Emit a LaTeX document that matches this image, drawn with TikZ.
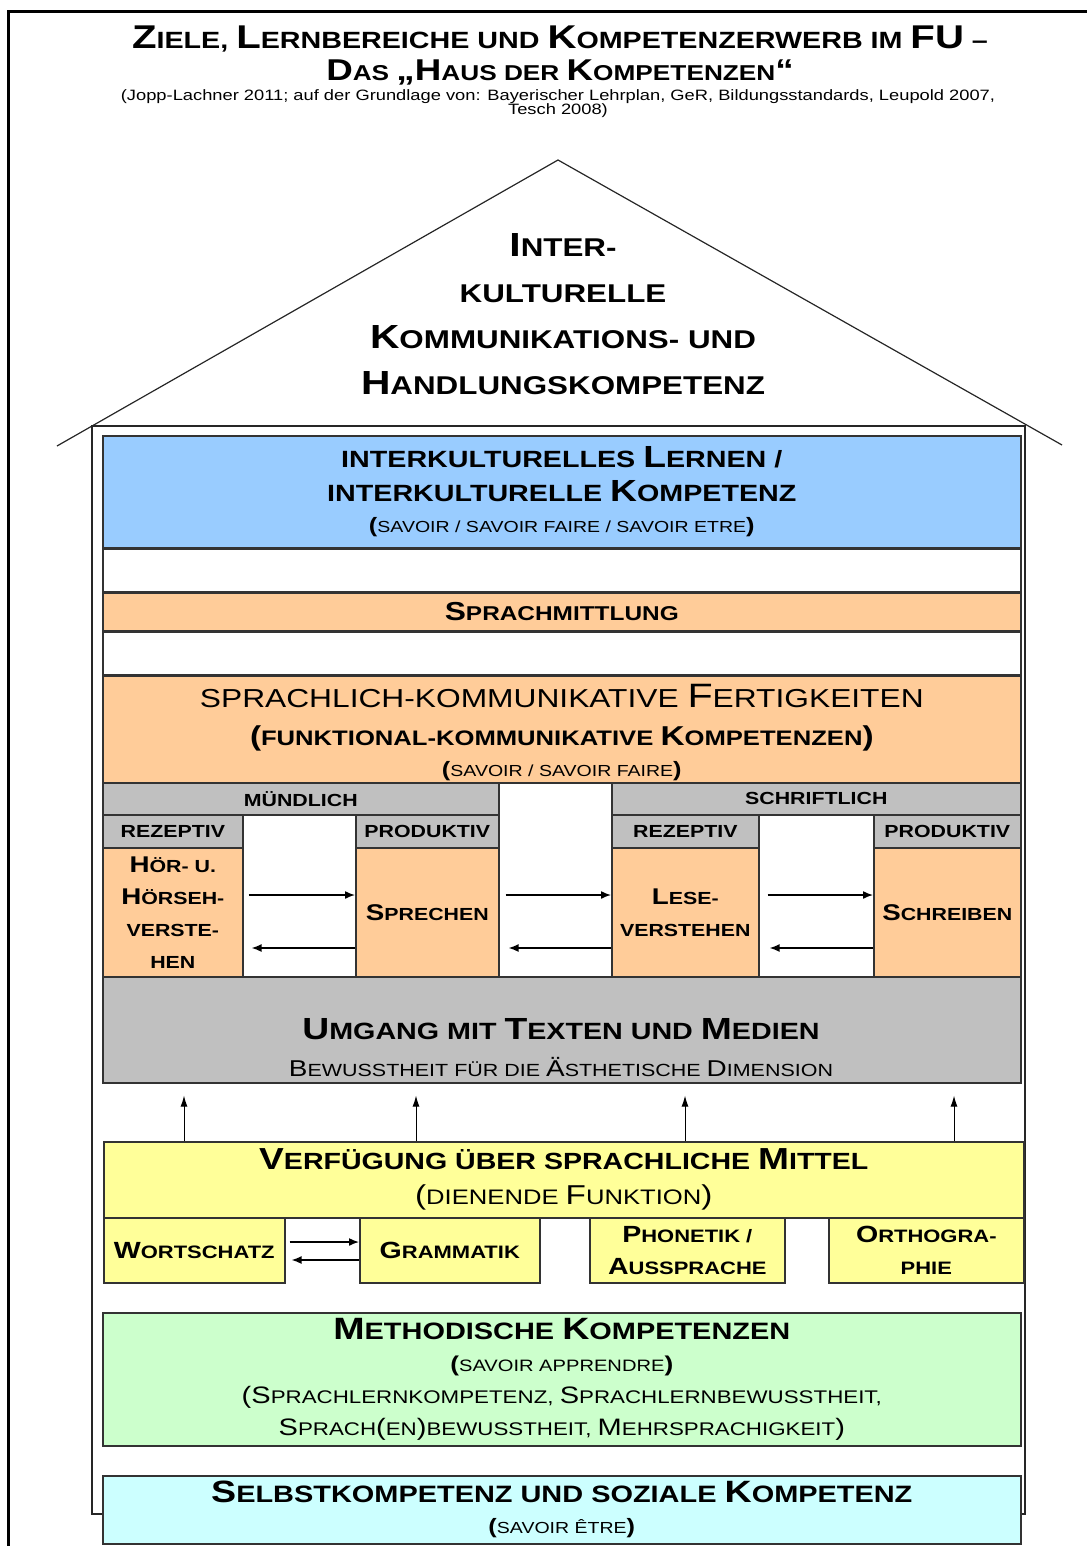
\documentclass[tikz,border=0pt]{standalone}
\usepackage{fontspec}
\setmainfont{Liberation Sans}[FakeStretch=1.22]
\usetikzlibrary{arrows.meta, positioning}

\definecolor{blau}{RGB}{153,204,255}
\definecolor{pfirsich}{RGB}{255,204,153}
\definecolor{grau}{RGB}{192,192,192}
\definecolor{gelb}{RGB}{255,255,153}
\definecolor{gruen}{RGB}{204,255,204}
\definecolor{tuerkis}{RGB}{204,255,255}

\newcommand{\Gr}[1]{\scalebox{1.3}{#1}}
\newcommand{\Gt}[1]{\scalebox{1.4}{#1}}

\begin{document}
\begin{tikzpicture}[
    x=1pt, y=-1pt,
    box/.style={draw=black!80, line width=1.6pt, inner sep=0pt, align=center, anchor=north west},
    leer/.style={box, fill=white},
    cell/.style={box, font=\bfseries\fontsize{17.5}{32}\selectfont},
    line/.style={draw, line width=1.5pt, -{Latex[length=10pt, width=8pt]}},
    hoch/.style={draw, line width=1pt, -{Latex[length=11pt, width=7pt]}, shorten >=12pt}
]
    \useasboundingbox (0,0) rectangle (1087,1546);

    % Rahmen, Dach und Waende
    \draw[line width=3pt] (8,1546) -- (8,12) -- (1087,12);
    \draw[line width=1.2pt, black!85] (57,446) -- (558,160) -- (1062,445);
    \draw[line width=1.6pt, black!85] (92,426) rectangle (1025,1514);

    % Titel
    \node[align=center, font=\bfseries\fontsize{23.5}{32}\selectfont] (titel) at (560,56)
        {\Gt{Z}IELE, \Gt{L}ERNBEREICHE UND \Gt{K}OMPETENZERWERB IM \Gt{FU} --\\
         {\fontsize{21.5}{32}\selectfont\Gt{D}AS \Gt{,,H}AUS DER \Gt{K}OMPETENZEN\Gt{``}}};
    \node[align=center, font=\fontsize{15}{14}\selectfont] (quelle) at (558,104)
        {(Jopp-Lachner 2011; auf der Grundlage von: Bayerischer Lehrplan, GeR, Bildungsstandards, Leupold 2007,\\
         Tesch 2008)};

    % Dach
    \node[align=center, font=\bfseries\fontsize{25.7}{46}\selectfont] (dach) at (563,314)
        {\Gr{I}NTER-\\KULTURELLE\\\Gr{K}OMMUNIKATIONS- UND\\\Gr{H}ANDLUNGSKOMPETENZ};

    % obere Stockwerke
    \node[box, fill=blau, minimum width=918pt, minimum height=112pt, font=\bfseries\fontsize{23.5}{34}\selectfont] (ikl) at (102,435)
        {INTERKULTURELLES \Gr{L}ERNEN /\\
         INTERKULTURELLE \Gr{K}OMPETENZ\\[-3pt]
         {\mdseries\fontsize{16}{31}\selectfont\Gr{\textbf{(}}SAVOIR / SAVOIR FAIRE / SAVOIR ETRE\Gr{\textbf{)}}}};
    \node[leer, minimum width=918pt, minimum height=42pt, below=0pt of ikl] (leer1) {};
    \node[box, fill=pfirsich, minimum width=918pt, minimum height=38pt, below=0pt of leer1,
        font=\bfseries\fontsize{20}{24}\selectfont] (smitt) {\Gr{S}PRACHMITTLUNG};
    \node[leer, minimum width=918pt, minimum height=42pt, below=0pt of smitt] (leer2) {};
    \node[box, fill=pfirsich, minimum width=918pt, minimum height=113pt, below=0pt of leer2,
        font=\fontsize{26}{38}\selectfont] (skf)
        {SPRACHLICH-KOMMUNIKATIVE \Gr{F}ERTIGKEITEN\\
         {\bfseries\fontsize{21}{38}\selectfont\Gr{(}FUNKTIONAL-KOMMUNIKATIVE \Gr{K}OMPETENZEN\Gr{)}}\\[-7pt]
         {\fontsize{16}{31}\selectfont\Gr{\textbf{(}}SAVOIR / SAVOIR FAIRE\Gr{\textbf{)}}}};

    % Fertigkeiten
    \node[cell, fill=grau, minimum width=396pt, minimum height=32pt] (muendl) at (102,782) {MÜNDLICH};
    \node[leer, minimum width=113pt, minimum height=194pt] (leer3) at (498,782) {};
    \node[cell, fill=grau, minimum width=409pt, minimum height=32pt] (schriftl) at (611,782) {SCHRIFTLICH};
    \node[cell, fill=grau, minimum width=140pt, minimum height=33pt] (rez1) at (102,814) {REZEPTIV};
    \node[leer, minimum width=113pt, minimum height=162pt] (leer4) at (242,814) {};
    \node[cell, fill=grau, minimum width=143pt, minimum height=33pt] (prod1) at (355,814) {PRODUKTIV};
    \node[cell, fill=grau, minimum width=147pt, minimum height=33pt] (rez2) at (611,814) {REZEPTIV};
    \node[leer, minimum width=115pt, minimum height=162pt] (leer5) at (758,814) {};
    \node[cell, fill=grau, minimum width=147pt, minimum height=33pt] (prod2) at (873,814) {PRODUKTIV};
    \node[cell, fill=pfirsich, minimum width=140pt, minimum height=129pt] (hoer) at (102,847)
        {\Gr{H}ÖR- U.\\\Gr{H}ÖRSEH-\\VERSTE-\\HEN};
    \node[cell, fill=pfirsich, minimum width=143pt, minimum height=129pt] (sprech) at (355,847) {\Gr{S}PRECHEN};
    \node[cell, fill=pfirsich, minimum width=147pt, minimum height=129pt] (lese) at (611,847) {\Gr{L}ESE-\\VERSTEHEN};
    \node[cell, fill=pfirsich, minimum width=147pt, minimum height=129pt] (schreib) at (873,847) {\Gr{S}CHREIBEN};

    \node[box, fill=grau, minimum width=918pt, minimum height=106pt] (umgang) at (102,976) {};
    \node[align=center, font=\bfseries\fontsize{23.5}{37}\selectfont] (umgtext) at (561,1048)
        {\Gr{U}MGANG MIT \Gr{T}EXTEN UND \Gr{M}EDIEN\\
         {\mdseries\fontsize{17.6}{37}\selectfont\Gr{B}EWUSSTHEIT FÜR DIE \Gr{Ä}STHETISCHE \Gr{D}IMENSION}};

    % sprachliche Mittel
    \node[box, fill=gelb, minimum width=920pt, minimum height=76pt, font=\bfseries\fontsize{23.4}{35}\selectfont] (verf) at (103,1141)
        {\Gr{V}ERFÜGUNG ÜBER SPRACHLICHE \Gr{M}ITTEL\\
         {\mdseries\fontsize{21}{35}\selectfont\Gr{(}DIENENDE \Gr{F}UNKTION\Gr{)}}};
    \node[cell, fill=gelb, minimum width=181pt, minimum height=65pt, font=\bfseries\fontsize{18}{32}\selectfont] (wort) at (103,1217) {\Gr{W}ORTSCHATZ};
    \node[cell, fill=gelb, minimum width=180pt, minimum height=65pt, font=\bfseries\fontsize{18}{32}\selectfont] (gram) at (359,1217) {\Gr{G}RAMMATIK};
    \node[cell, fill=gelb, minimum width=195pt, minimum height=65pt, font=\bfseries\fontsize{18}{32}\selectfont] (phon) at (589,1217) {\Gr{P}HONETIK /\\\Gr{A}USSPRACHE};
    \node[cell, fill=gelb, minimum width=195pt, minimum height=65pt, font=\bfseries\fontsize{18}{32}\selectfont] (ortho) at (828,1217) {\Gr{O}RTHOGRA-\\PHIE};

    % Fundament
    \node[box, fill=gruen, minimum width=918pt, minimum height=133pt, font=\bfseries\fontsize{23.7}{32}\selectfont] (meth) at (102,1312)
        {\Gr{M}ETHODISCHE \Gr{K}OMPETENZEN\\
         {\mdseries\fontsize{16.5}{31}\selectfont\Gr{\textbf{(}}SAVOIR APPRENDRE\Gr{\textbf{)}}}\\
         {\mdseries\fontsize{18.3}{32}\selectfont\Gr{(}\Gr{S}PRACHLERNKOMPETENZ, \Gr{S}PRACHLERNBEWUSSTHEIT,}\\
         {\mdseries\fontsize{18.3}{32}\selectfont\Gr{S}PRACH\Gr{(}EN\Gr{)}BEWUSSTHEIT, \Gr{M}EHRSPRACHIGKEIT\Gr{)}}};
    \node[box, fill=tuerkis, minimum width=918pt, minimum height=68pt, font=\bfseries\fontsize{23.7}{31}\selectfont] (selbst) at (102,1475)
        {\Gr{S}ELBSTKOMPETENZ UND SOZIALE \Gr{K}OMPETENZ\\
         {\mdseries\fontsize{16}{31}\selectfont\Gr{\textbf{(}}SAVOIR ÊTRE\Gr{\textbf{)}}}};

    % Pfeile
    \path[line, shorten <=5pt] (hoer.east |- 0,895) -- (sprech.west |- 0,895);
    \path[line, shorten >=8pt] (sprech.west |- 0,948) -- (hoer.east |- 0,948);
    \path[line, shorten <=6pt] (sprech.east |- 0,895) -- (lese.west |- 0,895);
    \path[line, shorten >=9pt] (lese.west |- 0,948) -- (sprech.east |- 0,948);
    \path[line, shorten <=8pt] (lese.east |- 0,895) -- (schreib.west |- 0,895);
    \path[line, shorten >=10pt] (schreib.west |- 0,948) -- (lese.east |- 0,948);
    \path[line, shorten <=4pt] (wort.east |- 0,1242) -- (gram.west |- 0,1242);
    \path[line, shorten >=6pt] (gram.west |- 0,1260) -- (wort.east |- 0,1260);
    \foreach \px in {184,416,685,954}
        \path[hoch] (verf.north -| \px,0) -- (umgang.south -| \px,0);

\end{tikzpicture}
\end{document}
